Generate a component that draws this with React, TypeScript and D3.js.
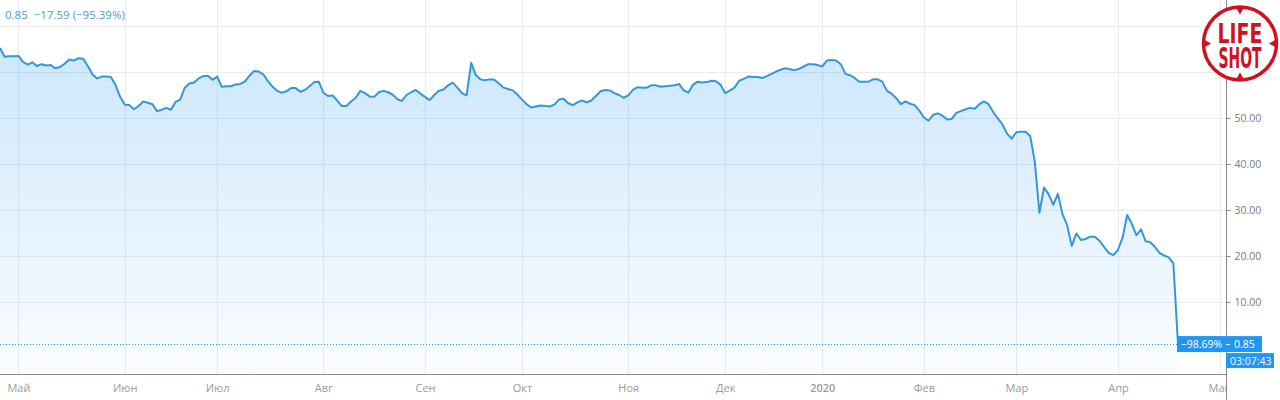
import React, { useEffect, useRef } from "react";
import * as d3 from "d3";

// one close per trading session, late Apr 2019 .. 20 Apr 2020
const closes = [
  65.2, 63.3, 63.4, 63.4, 63.5, 62.2, 61.6, 62.1, 61.3, 61.7,
  61.4, 61.5, 60.8, 61.1, 61.8, 62.7, 62.5, 63.0, 62.9, 61.3,
  59.5, 58.6, 59.0, 59.0, 58.9, 57.2, 54.6, 52.9, 52.8, 51.9,
  52.6, 53.6, 53.3, 53.0, 51.5, 51.8, 52.2, 51.8, 53.5, 54.0,
  56.6, 57.5, 57.7, 58.6, 59.1, 59.2, 58.3, 59.0, 56.8, 56.9,
  56.9, 57.3, 57.4, 57.9, 59.2, 60.2, 60.1, 59.5, 58.0, 56.8,
  55.9, 55.5, 55.8, 56.5, 56.5, 55.7, 56.1, 56.9, 57.8, 57.9,
  55.5, 54.8, 54.9, 53.8, 52.6, 52.6, 53.6, 54.4, 55.9, 55.4,
  54.7, 54.6, 55.6, 55.9, 55.6, 55.1, 54.1, 53.7, 55.0, 55.6,
  56.1, 55.3, 54.6, 53.9, 55.0, 55.9, 56.2, 57.1, 57.7, 56.6,
  55.4, 54.9, 62.0, 59.3, 58.4, 58.2, 58.4, 58.3, 57.5, 56.6,
  56.3, 56.0, 55.1, 54.0, 53.0, 52.3, 52.5, 52.7, 52.6, 52.5,
  52.9, 54.0, 54.2, 53.2, 52.8, 53.4, 53.8, 53.4, 53.8, 54.8,
  55.8, 56.1, 56.0, 55.4, 55.0, 54.4, 54.9, 56.1, 56.7, 56.6,
  56.6, 57.1, 57.1, 56.8, 56.9, 57.0, 57.1, 57.4, 56.0, 55.5,
  57.2, 57.9, 57.7, 57.8, 58.1, 58.0, 57.2, 55.4, 56.0, 56.6,
  58.1, 58.5, 59.0, 58.9, 58.9, 58.7, 59.1, 59.6, 60.1, 60.5,
  60.8, 60.6, 60.4, 60.7, 61.2, 61.7, 61.7, 61.5, 61.2, 62.5,
  62.6, 62.5, 61.7, 59.6, 59.3, 58.7, 57.9, 57.9, 57.9, 58.4,
  58.4, 57.9, 55.9, 55.3, 54.3, 53.0, 53.6, 53.1, 52.8, 51.6,
  50.1, 49.4, 50.7, 51.0, 50.5, 49.7, 49.8, 51.1, 51.5, 51.9,
  52.2, 52.0, 53.0, 53.6, 53.0, 51.3, 49.9, 48.6, 46.6, 45.5,
  46.9, 47.0, 47.0, 46.1, 40.5, 29.4, 34.9, 33.4, 31.1, 33.5,
  29.1, 26.7, 22.2, 24.9, 23.5, 23.7, 24.2, 24.2, 23.3, 22.0,
  20.7, 20.2, 21.3, 24.0, 28.9, 27.0, 24.5, 25.8, 23.2, 23.0,
  22.0, 20.7, 20.1, 19.7, 18.4, 0.85,
];

const monthLabels = ["Май", "Июн", "Июл", "Авг", "Сен", "Окт", "Ноя", "Дек", "2020", "Фев", "Мар", "Апр", "Май"];
// session index where each month starts
const monthBars = [4, 27, 47, 70, 92, 113, 136, 157, 178, 200, 220, 242, 264];
const priceTicks = [10, 20, 30, 40, 50, 60, 70];
// 60.00 and 70.00 sit under the logo, so only these get a label
const priceLabels = [10, 20, 30, 40, 50];

const headerPrice = "0.85";
const headerChange = "−17.59 (−95.39%)";
const periodChange = "−98.69%";
const countdown = "03:07:43";

const WIDTH = 1280;
const HEIGHT = 400;
const AXIS_X = 1226;
const AXIS_Y = 374;
const BLUE = "#2196f3";
const LINE = "#3596dc";
const RED = "#d0121f";
const FONT = "'Open Sans', 'Liberation Sans', sans-serif";

export default function App() {
  const ref = useRef<SVGSVGElement>(null);

  useEffect(() => {
    const svg = d3.select(ref.current);
    svg.selectAll("*").remove();

    const x = d3.scaleLinear().domain([0, closes.length - 1]).range([0, 1178]);
    const y = d3.scaleLinear().domain([0, 70]).range([348, 26]);
    const last = closes[closes.length - 1];

    const defs = svg.append("defs");
    defs
      .append("clipPath")
      .attr("id", "plot-clip")
      .append("rect")
      .attr("width", AXIS_X)
      .attr("height", HEIGHT);
    const lg = defs
      .append("linearGradient")
      .attr("id", "area-fill")
      .attr("gradientUnits", "userSpaceOnUse")
      .attr("x1", 0)
      .attr("x2", 0)
      .attr("y1", y(70))
      .attr("y2", AXIS_Y);
    lg.append("stop").attr("offset", "0%").attr("stop-color", BLUE).attr("stop-opacity", 0.24);
    lg.append("stop").attr("offset", "100%").attr("stop-color", BLUE).attr("stop-opacity", 0.02);

    // grid
    const grid = svg.append("g").attr("stroke", "#ebebeb").attr("stroke-width", 1).attr("clip-path", "url(#plot-clip)");
    grid
      .selectAll("line.v")
      .data(monthBars)
      .join("line")
      .attr("class", "v")
      .attr("x1", (d) => Math.round(x(d)) + 0.5)
      .attr("x2", (d) => Math.round(x(d)) + 0.5)
      .attr("y1", 0)
      .attr("y2", AXIS_Y);
    grid
      .selectAll("line.h")
      .data(priceTicks)
      .join("line")
      .attr("class", "h")
      .attr("x1", 0)
      .attr("x2", AXIS_X)
      .attr("y1", (d) => Math.round(y(d)) + 0.5)
      .attr("y2", (d) => Math.round(y(d)) + 0.5);

    // area + line
    svg
      .append("path")
      .datum(closes)
      .attr("fill", "url(#area-fill)")
      .attr(
        "d",
        d3
          .area<number>()
          .x((d, i) => x(i))
          .y0(AXIS_Y)
          .y1((d) => y(d))
      );
    svg
      .append("path")
      .datum(closes)
      .attr("fill", "none")
      .attr("stroke", LINE)
      .attr("stroke-width", 2)
      .attr("stroke-linejoin", "round")
      .attr(
        "d",
        d3
          .line<number>()
          .x((d, i) => x(i))
          .y((d) => y(d))
      );

    // last price dotted line
    svg
      .append("line")
      .attr("x1", 0)
      .attr("x2", AXIS_X)
      .attr("y1", Math.round(y(last)) + 0.5)
      .attr("y2", Math.round(y(last)) + 0.5)
      .attr("stroke", BLUE)
      .attr("stroke-width", 1)
      .attr("stroke-dasharray", "1,2");

    // bottom axis
    const xAxis = svg
      .append("g")
      .attr("transform", `translate(0,${AXIS_Y})`)
      .attr("clip-path", "url(#plot-clip)")
      .call(
        d3
          .axisBottom(x)
          .tickValues(monthBars)
          .tickFormat((d, i) => monthLabels[i])
          .tickSizeInner(-4)
          .tickSizeOuter(0)
          .tickPadding(10)
      );
    xAxis.select(".domain").remove();
    xAxis.selectAll(".tick line").attr("stroke", "#bbb");
    xAxis
      .selectAll(".tick text")
      .attr("fill", "#9a9a9a")
      .attr("font-family", FONT)
      .attr("font-size", 11)
      .attr("font-weight", (d, i) => (monthLabels[i] === "2020" ? 600 : 400));
    svg
      .append("line")
      .attr("x1", 0)
      .attr("x2", AXIS_X)
      .attr("y1", AXIS_Y + 0.5)
      .attr("y2", AXIS_Y + 0.5)
      .attr("stroke", "#8a8a8a");

    // right axis
    const yAxis = svg
      .append("g")
      .attr("transform", `translate(${AXIS_X + 0.5},0)`)
      .call(d3.axisRight(y).tickValues(priceLabels).tickFormat(d3.format(".2f")).tickSize(4).tickPadding(4));
    yAxis.select(".domain").remove();
    yAxis.selectAll(".tick line").attr("stroke", "#8a8a8a");
    yAxis
      .selectAll(".tick text")
      .attr("fill", "#7a7a7a")
      .attr("font-family", FONT)
      .attr("font-size", 10.5);
    svg
      .append("line")
      .attr("x1", AXIS_X + 0.5)
      .attr("x2", AXIS_X + 0.5)
      .attr("y1", 0)
      .attr("y2", HEIGHT)
      .attr("stroke", "#8a8a8a");

    // price labels
    const ly = y(last);
    svg.append("rect").attr("x", 1177).attr("y", ly - 8).attr("width", 49).attr("height", 16).attr("fill", BLUE);
    svg
      .append("text")
      .attr("x", 1201.5)
      .attr("y", ly + 4)
      .attr("text-anchor", "middle")
      .attr("fill", "#fff")
      .attr("font-family", FONT)
      .attr("font-size", 10.5)
      .text(periodChange);
    svg.append("rect").attr("x", AXIS_X).attr("y", ly - 8).attr("width", 36).attr("height", 16).attr("fill", BLUE);
    svg
      .append("line")
      .attr("x1", AXIS_X)
      .attr("x2", AXIS_X + 4)
      .attr("y1", ly + 0.5)
      .attr("y2", ly + 0.5)
      .attr("stroke", "#fff");
    svg
      .append("text")
      .attr("x", AXIS_X + 8)
      .attr("y", ly + 4)
      .attr("fill", "#fff")
      .attr("font-family", FONT)
      .attr("font-size", 10.5)
      .text(d3.format(".2f")(last));
    svg.append("rect").attr("x", AXIS_X).attr("y", ly + 9).attr("width", 48).attr("height", 15).attr("fill", BLUE);
    svg
      .append("text")
      .attr("x", AXIS_X + 4)
      .attr("y", ly + 20.5)
      .attr("fill", "#fff")
      .attr("font-family", FONT)
      .attr("font-size", 10.5)
      .text(countdown);

    // header
    const header = svg
      .append("text")
      .attr("x", 5)
      .attr("y", 19)
      .attr("fill", "#4a9bd5")
      .attr("font-family", FONT)
      .attr("font-size", 11.5);
    header.append("tspan").text(headerPrice);
    header.append("tspan").attr("dx", 6).text(headerChange);

    // LIFE SHOT logo
    const logo = svg.append("g").attr("transform", "translate(1240,43.5)");
    logo.append("circle").attr("r", 36.5).attr("fill", "#fff").attr("stroke", RED).attr("stroke-width", 3.5);
    logo
      .selectAll("path")
      .data([0, 90, 180, 270])
      .join("path")
      .attr("d", "M-4,-36 L4,-36 L0,-29 Z")
      .attr("fill", RED)
      .attr("transform", (d) => `rotate(${d})`);
    logo
      .append("text")
      .attr("x", 0)
      .attr("y", -0.5)
      .attr("text-anchor", "middle")
      .attr("fill", RED)
      .attr("font-family", "'Liberation Sans Narrow', 'DejaVu Sans Condensed', sans-serif")
      .attr("font-weight", 700)
      .attr("font-size", 26)
      .attr("textLength", 45)
      .attr("lengthAdjust", "spacingAndGlyphs")
      .text("LIFE");
    logo
      .append("text")
      .attr("x", 0)
      .attr("y", 24.5)
      .attr("text-anchor", "middle")
      .attr("fill", RED)
      .attr("font-family", "'Liberation Sans Narrow', 'DejaVu Sans Condensed', sans-serif")
      .attr("font-weight", 700)
      .attr("font-size", 28)
      .attr("textLength", 43)
      .attr("lengthAdjust", "spacingAndGlyphs")
      .text("SHOT");
  }, []);

  return (
    <div style={{ position: "absolute", left: 0, top: 0 }}>
      <svg ref={ref} width={WIDTH} height={HEIGHT} style={{ display: "block", background: "#fff" }} />
    </div>
  );
}
